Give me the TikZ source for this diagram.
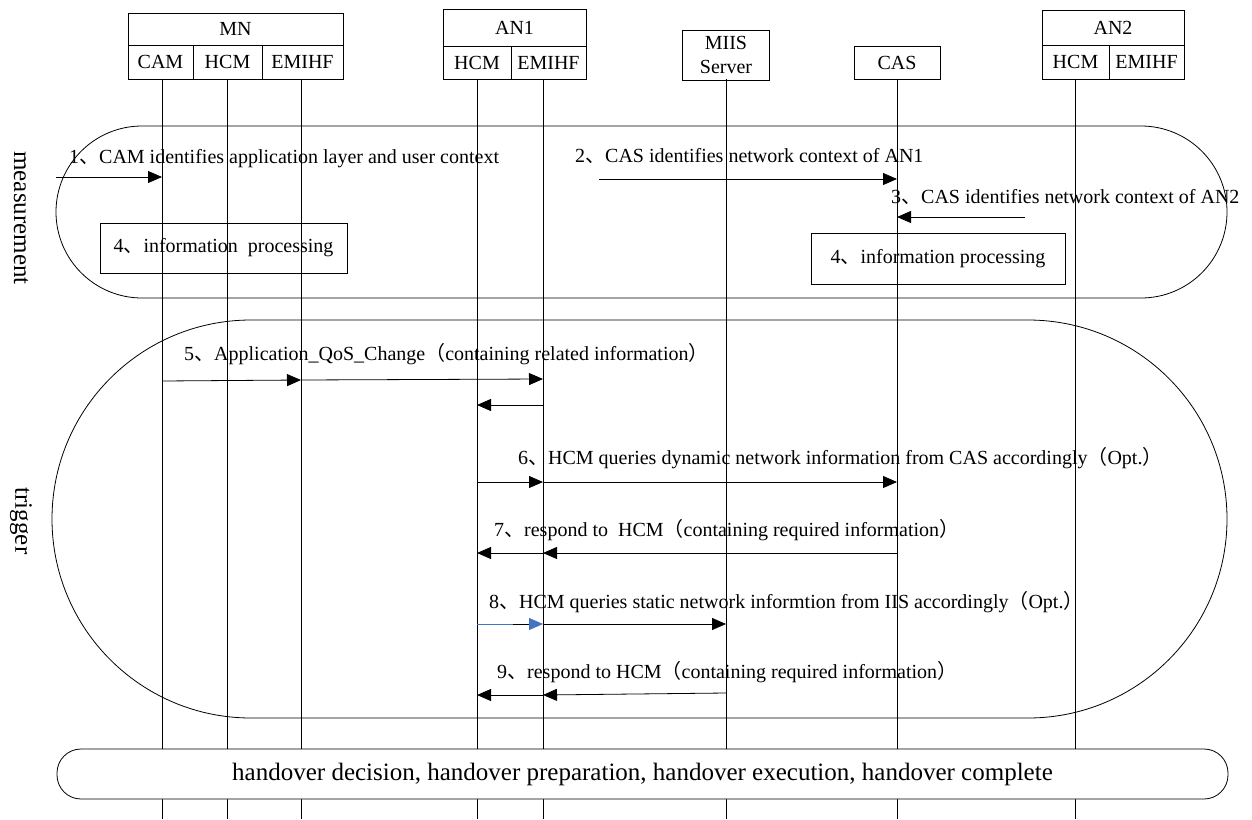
\documentclass[tikz,border=0pt]{standalone}
\usepackage{fontspec}
\setmainfont{Liberation Serif}
\newfontfamily\cjk{Noto Sans CJK SC}
\usetikzlibrary{arrows.meta,positioning,calc}

\definecolor{qblue}{HTML}{4472C4}
\newcommand{\cdun}{{\cjk 、}}
\newcommand{\clp}{{\cjk （}}
\newcommand{\crp}{{\cjk ）}}

\tikzset{
  cell/.style={draw, line width=0.8pt, inner sep=0pt, align=center, font=\fontsize{20}{24}\selectfont},
  lbl/.style={inner sep=0pt, anchor=base west, font=\fontsize{20}{24}\selectfont},
  msg/.style={line width=0.8pt, -{Triangle[length=14pt,width=12pt]}},
  life/.style={line width=0.8pt},
  phase/.style={draw, line width=0.8pt},
  proc/.style={draw, line width=0.8pt, inner sep=0pt, minimum height=50pt, font=\fontsize{20}{24}\selectfont},
  stage/.style={rotate=-90, inner sep=0pt, font=\fontsize{25}{30}\selectfont},
}

\begin{document}
\begin{tikzpicture}[x=1pt,y=-1pt]
\useasboundingbox[fill=white] (0,0) rectangle (1252,819);

% phases
\draw[phase, rounded corners=86pt] (56,126) rectangle (1227,298);
\draw[phase, rounded corners=199pt] (52,320) rectangle (1227,718);
\node[stage] (meas) at (21,218) {measurement};
\node[stage] (trig) at (21,521) {trigger};

% entities
\node[cell, minimum width=215pt, minimum height=32pt] (mn) at (235.5,29) {MN};
\node[cell, minimum width=65pt, minimum height=34pt] (mncam) at (160.5,62) {CAM};
\node[cell, minimum width=69pt, minimum height=34pt] (mnhcmbox) at (227.5,62) {HCM};
\node[cell, minimum width=81pt, minimum height=34pt] (mnemihfbox) at (302.5,62) {EMIHF};

\node[cell, minimum width=143pt, minimum height=37pt] (anone) at (514.5,27.5) {AN1};
\node[cell, minimum width=68pt, minimum height=33pt] (anhcmbox) at (477,62.5) {HCM};
\node[cell, minimum width=75pt, minimum height=33pt] (anemihfbox) at (548.5,62.5) {EMIHF};

\node[cell, minimum width=87pt, minimum height=50pt] (miisbox) at (726,55) {MIIS\\Server};
\node[cell, minimum width=86pt, minimum height=33pt] (casbox) at (897,62.5) {CAS};

\node[cell, minimum width=142pt, minimum height=35pt] (antwo) at (1113,27.5) {AN2};
\node[cell, minimum width=67pt, minimum height=34pt] (antwohcmbox) at (1075.5,62) {HCM};
\node[cell, minimum width=75pt, minimum height=34pt] (antwoemihfbox) at (1146.5,62) {EMIHF};

% lifelines
\foreach \n/\x in {cam/162, mnhcm/227, mnemihf/301, anhcm/477, anemihf/543, miis/726, cas/897, antwohcm/1075}
{
  \coordinate (\n) at (\x,79);
  \draw[life] (\n) -- (\x,819);
}

% measurement
\coordinate (src1) at (56,177);
\draw[msg] (src1) -- (cam |- src1);
\node[lbl] (t1) at (69,163) {1\cdun CAM identifies application layer and user context};

\coordinate (src2) at (599,179);
\draw[msg] (src2) -- (cas |- src2);
\node[lbl] (t2) at (575,162) {2\cdun CAS identifies network context of AN1};

\coordinate (src3) at (1025,217);
\draw[msg] (src3) -- (cas |- src3);
\node[lbl] (t3) at (891,203) {3\cdun CAS identifies network context of AN2};

\node[proc, minimum width=247pt] (procmn) at (223.5,248) {4\cdun information~ processing};
\node[proc, minimum width=254pt, minimum height=51pt] (proccas) at (938,258.5) {4\cdun information processing};

% trigger
\node[lbl] (t5) at (184,360) {5\cdun Application\_QoS\_Change\clp containing related information\crp};
\draw[msg] (cam |- 0,381) -- (mnemihf |- 0,380);
\draw[msg] (mnemihf |- 0,380) -- (anemihf |- 0,379);
\draw[msg] (anemihf |- 0,405) -- (anhcm |- 0,405);

\node[lbl] (t6) at (518,464) {6\cdun HCM queries dynamic network information from CAS accordingly\clp Opt.\crp};
\draw[msg] (anhcm |- 0,482) -- (anemihf |- 0,482);
\draw[msg] (anemihf |- 0,482) -- (cas |- 0,482);

\node[lbl] (t7) at (494,536) {7\cdun respond to~ HCM\clp containing required information\crp};
\draw[msg] (cas |- 0,553) -- (anemihf |- 0,553);
\draw[msg] (anemihf |- 0,553) -- (anhcm |- 0,553);

\node[lbl] (t8) at (489,608) {8\cdun HCM queries static network informtion from IIS accordingly\clp Opt.\crp};
\draw[msg, -{Triangle[length=14pt,width=12pt,color=qblue]}] (anhcm |- 0,624) -- (anemihf |- 0,624);
\draw[life, qblue] (anhcm |- 0,624) -- ++(36,0);
\draw[msg] (anemihf |- 0,624) -- (miis |- 0,624);

\node[lbl] (t9) at (497,678) {9\cdun respond to HCM\clp containing required information\crp};
\draw[msg] (miis |- 0,693) -- (anemihf |- 0,695);
\draw[msg] (anemihf |- 0,695) -- (anhcm |- 0,695);

% handover
\node[draw, fill=white, line width=0.8pt, rounded corners=24pt, minimum width=1171pt, minimum height=50pt,
  font=\fontsize{25}{30}\selectfont] (ho) at (642.5,774)
  {handover decision, handover preparation, handover execution, handover complete};
\end{tikzpicture}
\end{document}
